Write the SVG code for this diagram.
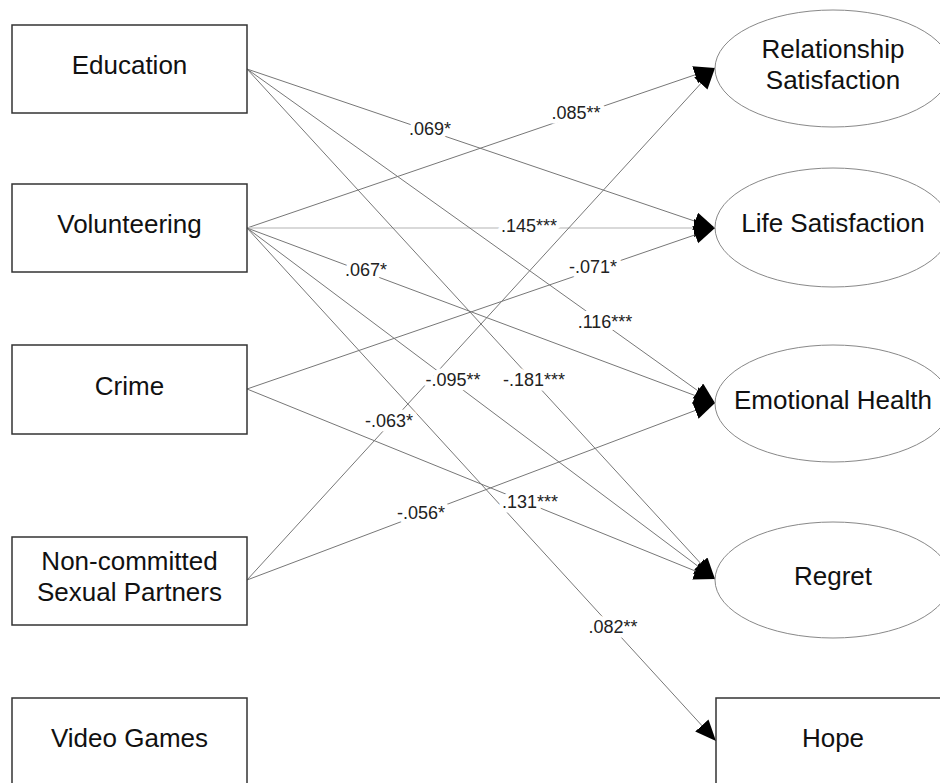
<svg xmlns="http://www.w3.org/2000/svg" width="940" height="783" viewBox="0 0 940 783">
<style>
.box{fill:#fff;stroke:#333;stroke-width:1.5}
.ell{fill:#fff;stroke:#888;stroke-width:1}
.nt{font-family:"Liberation Sans",Arial,sans-serif;font-size:26px;fill:#111;text-anchor:middle}
.ln{stroke:#777;stroke-width:1;fill:none;marker-end:url(#ah)}
.lt{stroke:#ccc;stroke-width:1.5;fill:none;marker-end:url(#ah)}
.lb{font-family:"Liberation Sans",Arial,sans-serif;font-size:18px;fill:#222;text-anchor:middle;stroke:#fff;stroke-width:9;paint-order:stroke;stroke-linejoin:round}
</style>
<defs>
<marker id="ah" markerUnits="userSpaceOnUse" markerWidth="22" markerHeight="20" refX="21" refY="9" orient="auto">
<path d="M0,0 L21,9 L0,18 z" fill="#000"/>
</marker>
</defs>
<rect width="940" height="783" fill="#fff"/>
<g id="connectors">
<line class="ln" x1="247" y1="69" x2="715" y2="228"/>
<line class="ln" x1="247" y1="228" x2="715" y2="68"/>
<line class="lt" x1="247" y1="228" x2="715" y2="228"/>
<line class="ln" x1="247" y1="389" x2="715" y2="228"/>
<line class="ln" x1="247" y1="228" x2="715" y2="403"/>
<line class="ln" x1="247" y1="69" x2="715" y2="403"/>
<line class="ln" x1="247" y1="69" x2="715" y2="579"/>
<line class="ln" x1="247" y1="228" x2="715" y2="579"/>
<line class="ln" x1="247" y1="580" x2="715" y2="68"/>
<line class="ln" x1="247" y1="580" x2="715" y2="403"/>
<line class="ln" x1="247" y1="389" x2="715" y2="579"/>
<line class="ln" x1="247" y1="228" x2="716" y2="741"/>
<text class="lb" x="430" y="135">.069*</text>
<text class="lb" x="576" y="119">.085**</text>
<text class="lb" x="529" y="232">.145***</text>
<text class="lb" x="593" y="273">-.071*</text>
<text class="lb" x="366" y="276">.067*</text>
<text class="lb" x="605" y="328">.116***</text>
<text class="lb" x="534" y="386">-.181***</text>
<text class="lb" x="453" y="386">-.095**</text>
<text class="lb" x="389" y="427">-.063*</text>
<text class="lb" x="421" y="519">-.056*</text>
<text class="lb" x="530" y="508">.131***</text>
<text class="lb" x="613" y="633">.082**</text>
</g>
<g id="education"><rect class="box" x="12" y="25" width="235" height="88"/><text class="nt" x="129.5" y="74">Education</text></g>
<g id="volunteering"><rect class="box" x="12" y="184" width="235" height="88"/><text class="nt" x="129.5" y="233">Volunteering</text></g>
<g id="crime"><rect class="box" x="12" y="345" width="235" height="89"/><text class="nt" x="129.5" y="395">Crime</text></g>
<g id="noncommitted"><rect class="box" x="12" y="537" width="235" height="88"/><text class="nt" x="129.5" y="570">Non-committed</text><text class="nt" x="129.5" y="601">Sexual Partners</text></g>
<g id="videogames"><rect class="box" x="12" y="698" width="235" height="88"/><text class="nt" x="129.5" y="747">Video Games</text></g>
<g id="relsat"><ellipse class="ell" cx="833" cy="68.5" rx="118" ry="58.5"/><text class="nt" x="833" y="58">Relationship</text><text class="nt" x="833" y="89">Satisfaction</text></g>
<g id="lifesat"><ellipse class="ell" cx="833" cy="227.5" rx="118" ry="59.5"/><text class="nt" x="833" y="232">Life Satisfaction</text></g>
<g id="emohealth"><ellipse class="ell" cx="833" cy="403.5" rx="118" ry="58.5"/><text class="nt" x="833" y="409">Emotional Health</text></g>
<g id="regret"><ellipse class="ell" cx="833" cy="580" rx="118" ry="58"/><text class="nt" x="833" y="585">Regret</text></g>
<g id="hope"><rect class="box" x="716" y="698" width="235" height="88"/><text class="nt" x="833" y="747">Hope</text></g>
</svg>
